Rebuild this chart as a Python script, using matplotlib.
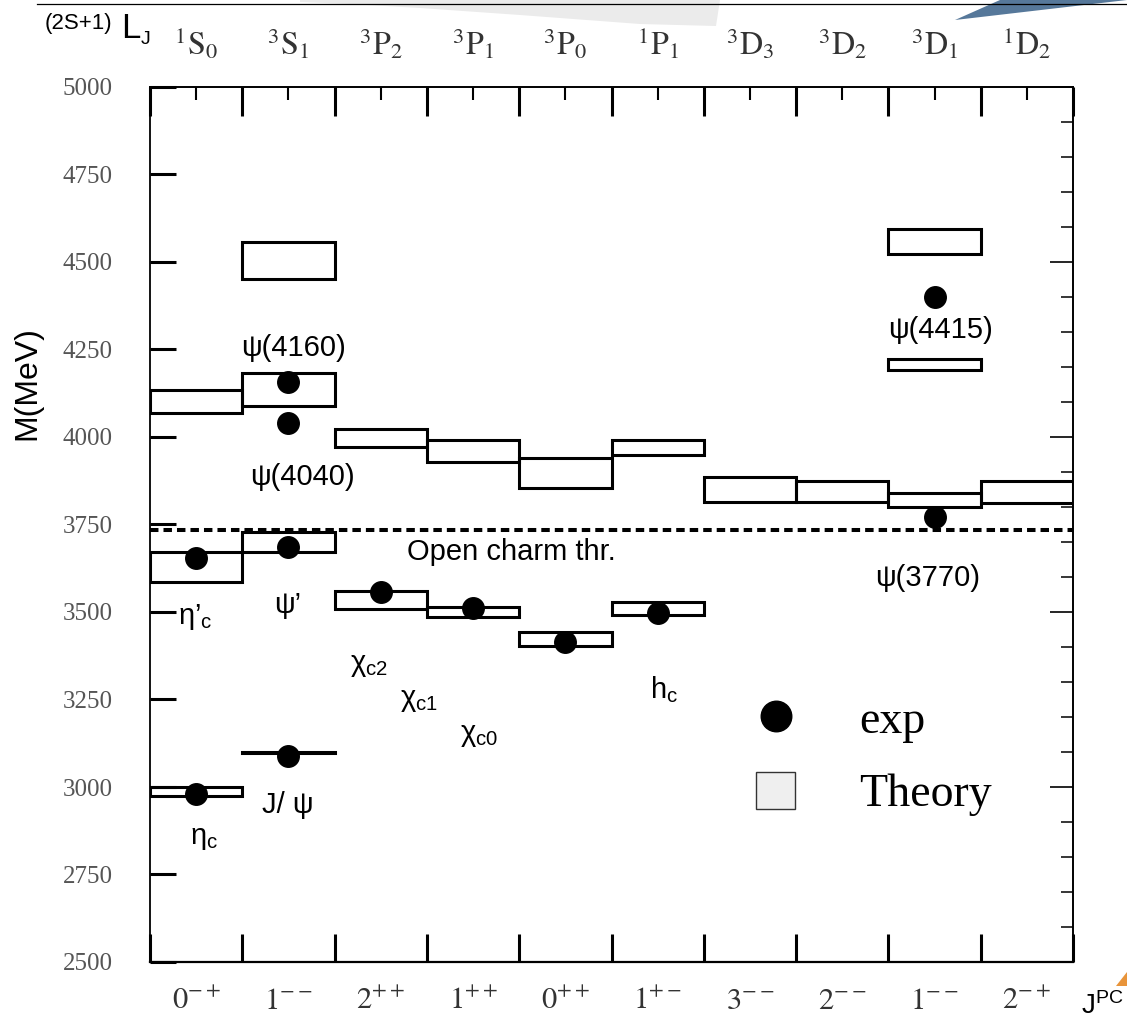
import numpy as np
import matplotlib
matplotlib.use("Agg")
import matplotlib.pyplot as plt
from matplotlib.patches import Patch, Polygon
from matplotlib.lines import Line2D

# ---- data -----------------------------------------------------------------
jpc_labels = [r"$0^{-+}$", r"$1^{--}$", r"$2^{++}$", r"$1^{++}$", r"$0^{++}$",
              r"$1^{+-}$", r"$3^{--}$", r"$2^{--}$", r"$1^{--}$", r"$2^{-+}$"]
term_labels = [r"$^{1}\mathrm{S}_{0}$", r"$^{3}\mathrm{S}_{1}$", r"$^{3}\mathrm{P}_{2}$",
               r"$^{3}\mathrm{P}_{1}$", r"$^{3}\mathrm{P}_{0}$", r"$^{1}\mathrm{P}_{1}$",
               r"$^{3}\mathrm{D}_{3}$", r"$^{3}\mathrm{D}_{2}$", r"$^{3}\mathrm{D}_{1}$",
               r"$^{1}\mathrm{D}_{2}$"]

# theory bands: column index, lower and upper mass (MeV)
theory_col = [0, 0, 0, 1, 1, 1, 1, 2, 2, 3, 3, 4, 4, 5, 5, 6, 7, 8, 8, 8, 9]
theory_lo = [2975, 3587, 4068, 3097, 3670, 4089, 4451, 3509, 3972, 3487, 3929,
             3403, 3855, 3491, 3949, 3815, 3815, 3799, 4191, 4522, 3812]
theory_hi = [3001, 3672, 4134, 3101, 3729, 4182, 4558, 3561, 4022, 3515, 3991,
             3444, 3941, 3529, 3991, 3885, 3874, 3841, 4222, 4593, 3874]

# measured states: column index and mass (MeV)
exp_col = [0, 0, 1, 1, 1, 1, 2, 3, 4, 5, 8, 8]
exp_mass = [2980, 3654, 3088, 3687, 4041, 4158, 3558, 3512, 3415, 3497, 3772, 4401]

open_charm_threshold = 3734

y_ticks = list(range(2500, 5001, 250))

# state names: text, x (column units), mass, horizontal alignment
state_names = [
    ("ψ(4160)", 1.56, 4254, "center"),
    ("ψ(4040)", 1.65, 3886, "center"),
    (r"$\mathrm{η’}_{\mathrm{c}}$", 0.30, 3486, "left"),
    ("ψ’", 1.49, 3520, "center"),
    (r"$\mathrm{χ}_{\mathrm{c2}}$", 2.17, 3349, "left"),
    (r"$\mathrm{χ}_{\mathrm{c1}}$", 2.71, 3249, "left"),
    (r"$\mathrm{χ}_{\mathrm{c0}}$", 3.36, 3149, "left"),
    (r"$\mathrm{h}_{\mathrm{c}}$", 5.42, 3277, "left"),
    ("ψ(3770)", 8.43, 3597, "center"),
    ("ψ(4415)", 8.56, 4306, "center"),
    ("J/ ψ", 1.21, 2949, "left"),
    (r"$\mathrm{η}_{\mathrm{c}}$", 0.43, 2854, "left"),
]

# ---- style ----------------------------------------------------------------
plt.rcParams["mathtext.fontset"] = "stix"
plt.rcParams["mathtext.rm"] = "Liberation Sans"
plt.rcParams["mathtext.it"] = "Liberation Sans:italic"
plt.rcParams["mathtext.bf"] = "Liberation Sans:bold"
plt.rcParams["mathtext.sf"] = "Liberation Sans"
plt.rcParams["font.family"] = ["Liberation Sans", "DejaVu Sans"]

W, H = 1127, 1021
fig = plt.figure(figsize=(W / 100, H / 100), dpi=100)
ax = fig.add_axes([150 / W, 59 / H, 923 / W, 875 / H])
ax.set_xlim(0, 10)
ax.set_ylim(2500, 5000)

n_cols = len(jpc_labels)
bounds = np.arange(n_cols + 1)
centers = np.arange(n_cols) + 0.5

# theory bands as open boxes spanning their column
t_col = np.array(theory_col)
t_lo = np.array(theory_lo)
t_hi = np.array(theory_hi)
ax.bar(t_col + 0.5, t_hi - t_lo, bottom=t_lo, width=1.0, fill=False,
       edgecolor="black", linewidth=2.2, zorder=3)

# open charm threshold
ax.axhline(open_charm_threshold, color="black", lw=2.9,
           dashes=(2.1, 1.25), zorder=4)
ax.text(2.78, 3671, "Open charm thr.", fontsize=21, ha="left", va="center")

# measured masses
ax.plot(np.array(exp_col) + 0.5, exp_mass, "o", color="black", ms=15.5,
        zorder=5, linestyle="none")

for txt, x, y, ha in state_names:
    ax.text(x, y, txt, fontsize=21, ha=ha, va="center",
            math_fontfamily="custom", zorder=6)

# ---- axes -----------------------------------------------------------------
for side, lw in (("left", 1.3), ("bottom", 1.6), ("right", 1.2), ("top", 1.2)):
    ax.spines[side].set_linewidth(lw)

ax.set_yticks(y_ticks, labels=[str(v) for v in y_ticks],
              fontfamily="Liberation Serif")
ax.tick_params(axis="y", direction="in", length=19, width=2.2, pad=27,
               labelsize=18, labelcolor="#555555")

ax.set_xticks(bounds, labels=[""] * len(bounds))
ax.set_xticks(centers, labels=jpc_labels, minor=True)
ax.tick_params(axis="x", which="major", direction="in", length=20, width=2.2,
               labelbottom=False)
ax.tick_params(axis="x", which="minor", length=0, pad=17, labelsize=22,
               labelcolor="#333333")

ax.set_ylabel("M(MeV)", fontsize=23)
ax.yaxis.set_label_coords(-0.117, 0.662)

top = ax.secondary_xaxis("top")
top.set_xticks(bounds, labels=[""] * len(bounds))
top.set_xticks(centers, labels=term_labels, minor=True)
top.tick_params(which="major", direction="in", length=21, width=2.2)
top.tick_params(which="minor", direction="in", length=9, width=1.5, pad=18,
                labelsize=23, labelcolor="#333333")
top.spines["top"].set_linewidth(1.2)

right = ax.secondary_yaxis("right")
right.set_yticks(list(range(2500, 5001, 500)), labels=[""] * 6)
right.set_yticks(list(range(2500, 5001, 100)), minor=True)
right.tick_params(which="major", direction="in", length=16.5, width=1.2,
                  labelright=False)
right.tick_params(which="minor", direction="in", length=8.6, width=1.1,
                  labelright=False)
right.spines["right"].set_linewidth(1.2)

# legend
handles = [Line2D([], [], marker="o", ls="none", color="black", ms=22),
           Patch(facecolor="#efefef", edgecolor="#333333", linewidth=1.0)]
ax.legend(handles, ["exp", "Theory"], loc="upper left",
          bbox_to_anchor=(0.6566, 0.301), frameon=False, borderpad=0,
          borderaxespad=0, handlelength=0.85, handleheight=0.85,
          handletextpad=1.4, labelspacing=0.64,
          prop={"family": "Liberation Serif", "size": 33})

# ---- headings outside the frame ---------------------------------------------
fig.text(45 / W, 1 - 23 / H, "(2S+1)", fontsize=16, va="center", ha="left")
fig.text(121 / W, 1 - 29 / H, "L", fontsize=25, va="center", ha="left")
fig.text(141 / W, 1 - 39 / H, "J", fontsize=14, va="center", ha="left")
fig.text(1081 / W, 1 - 1006 / H, r"$\mathrm{J}^{\mathrm{PC}}$", fontsize=20,
         va="center", ha="left", math_fontfamily="custom")


def px(points):
    return [(x / W, 1 - y / H) for x, y in points]


fig.add_artist(Line2D([37 / W, 1.0], [1 - 4.5 / H] * 2, transform=fig.transFigure,
                      color="black", lw=0.9))
fig.add_artist(Polygon(px([(300, 0), (720, 0), (716, 26), (640, 24), (520, 15),
                           (420, 8), (350, 4), (300, 2)]),
                       closed=True, transform=fig.transFigure,
                       facecolor="#ebebeb", edgecolor="none"))
fig.add_artist(Polygon(px([(955, 20), (1000, 0), (1127, 0)]), closed=True,
                       transform=fig.transFigure, facecolor="#56789a",
                       edgecolor="none"))
fig.add_artist(Polygon(px([(1116, 986), (1127, 972), (1127, 986)]), closed=True,
                       transform=fig.transFigure, facecolor="#e8943a",
                       edgecolor="none"))

fig.savefig("out.png", dpi=100)
